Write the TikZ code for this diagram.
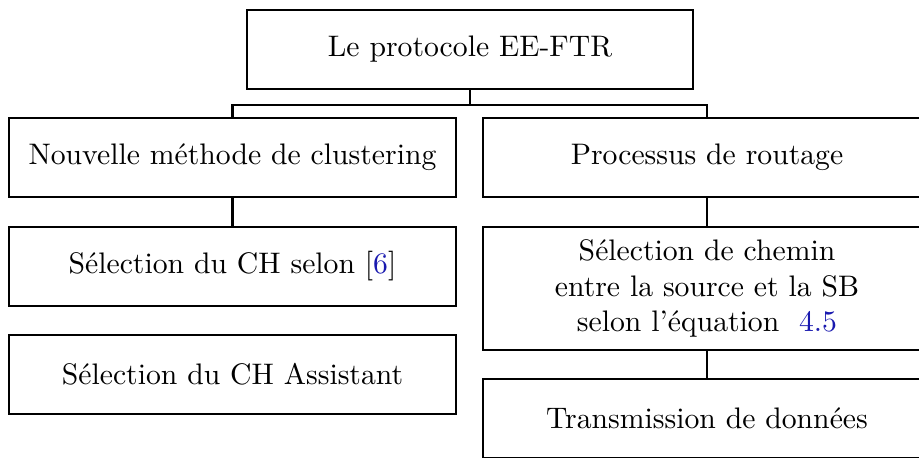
\documentclass[tikz,border=0pt]{standalone}
\usepackage{fontspec}
\usepackage{xcolor}
\definecolor{refblue}{RGB}{25,25,175}
\begin{document}
\begin{tikzpicture}[x=0.3367pt,y=-0.3367pt,
  boxst/.style={draw,line width=0.75pt,rectangle,inner sep=0pt,align=center,
    minimum width=150.5pt,minimum height=26.6pt},
  conn/.style={line width=0.75pt}]
\useasboundingbox (0,0) rectangle (919,457);
\node[boxst,minimum width=150.2pt] (top) at (470,49.5) {Le protocole EE-FTR};
\node[boxst] (l1) at (232.5,157.5) {Nouvelle méthode de clustering};
\node[boxst] (l2) at (232.5,266.5) {Sélection du CH selon [\textcolor{refblue}{6}]};
\node[boxst] (l3) at (232.5,374.5) {Sélection du CH Assistant};
\node[boxst,minimum width=150.8pt] (r1) at (707,157.5) {Processus de routage};
\node[boxst,minimum width=150.8pt,minimum height=41.4pt] (r2) at (707,288.5) {Sélection de chemin\\entre la source et la SB\\selon l’équation\ \ \textcolor{refblue}{4.5}};
\node[boxst,minimum width=150.8pt] (r3) at (707,418.5) {Transmission de données};
\coordinate (bus) at (470,105);
\draw[conn] (top.south) -- (bus);
\draw[conn] (l1.north) |- (bus) -| (r1.north);
\draw[conn] (l1.south) -- (l2.north);
\draw[conn] (r1.south) -- (r2.north);
\draw[conn] (r2.south) -- (r3.north);
\end{tikzpicture}
\end{document}
